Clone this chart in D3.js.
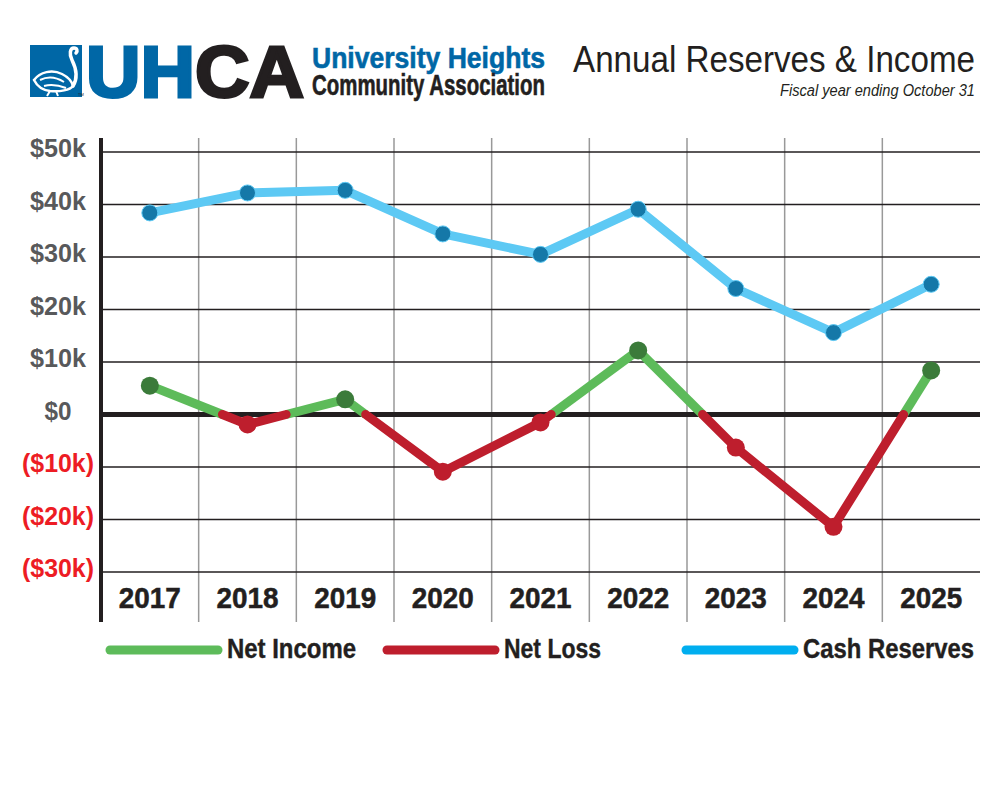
<!DOCTYPE html>
<html>
<head>
<meta charset="utf-8">
<script src="https://cdn.jsdelivr.net/npm/d3@7"></script>
<style>
  body { margin: 0; background: #fff; }
  svg { display: block; }
</style>
</head>
<body>
<svg id="chart" width="1000" height="800"></svg>
<script>
// fiscal years (ending Oct 31)
const years = ['2017', '2018', '2019', '2020', '2021', '2022', '2023', '2024', '2025'];
// cash reserves at year end, dollars
const cashReserves = [38400, 42200, 42700, 34400, 30500, 39100, 24000, 15600, 24800];
// net income (negative = net loss), dollars
const netIncome = [5500, -1900, 2900, -10900, -1500, 12200, -6300, -21400, 8400];
const yTicks = [50000, 40000, 30000, 20000, 10000, 0, -10000, -20000, -30000];
const legendItems = [
    { label: 'Net Income', color: '#5dbb5a' },
    { label: 'Net Loss', color: '#be1e2d' },
    { label: 'Cash Reserves', color: '#00aeef' }
];

(function () {
    const svg = d3.select('#chart');
    const ink = '#231f20';
    const font = '"Liberation Sans", Arial, Helvetica, sans-serif';

    const plotLeft = 101, plotRight = 980, plotTop = 138, plotBottom = 622;
    const x = d3.scaleBand().domain(years).range([plotLeft, plotRight]);
    const y = d3.scaleLinear().domain([-30000, 50000]).range([572, 152]);
    const cx = d => x(d) + x.bandwidth() / 2;

    // squeeze a text to a given width (the original uses a condensed face)
    const squeeze = (sel, w) => sel.attr('textLength', w).attr('lengthAdjust', 'spacingAndGlyphs');

    /*
     * Header: logo + title
     */
    const logo = svg.append('g');
    logo.append('rect')
        .attr('x', 30).attr('y', 45).attr('width', 52).attr('height', 52)
        .attr('fill', '#0067a6');
    // swan, roughly
    logo.append('path')
        .attr('d', 'M73,86 C78,78 76,68 72,60 C69,54 70,48 74,48 C77,48 78,51 76,53')
        .attr('fill', 'none').attr('stroke', '#fff').attr('stroke-width', 3.5).attr('stroke-linecap', 'round');
    logo.append('path')
        .attr('d', 'M34,80 C40,72 52,69 62,74 C68,77 72,82 73,86 C70,90 60,92 50,91 C42,90 37,86 34,80 Z')
        .attr('fill', 'none').attr('stroke', '#fff').attr('stroke-width', 2.5);
    logo.append('path')
        .attr('d', 'M40,80 C48,76 56,77 64,82 M44,86 C52,84 58,85 66,88 M50,91 L47,96 M56,91 L58,96')
        .attr('fill', 'none').attr('stroke', '#fff').attr('stroke-width', 2);
    logo.append('text')
        .attr('x', 78).attr('y', 96)
        .attr('font-family', font)
        .attr('font-size', 4).attr('fill', ink)
        .text('TM');

    const big = logo.append('text')
        .attr('x', 86).attr('y', 97)
        .attr('font-family', font)
        .attr('font-weight', 'bold')
        .attr('font-size', 73)
        .attr('stroke-width', 3)
        .call(squeeze, 218);
    big.append('tspan').attr('fill', '#0067a6').attr('stroke', '#0067a6').text('UH');
    big.append('tspan').attr('fill', ink).attr('stroke', ink).text('CA');

    logo.append('text')
        .attr('x', 312).attr('y', 68)
        .attr('font-family', font).attr('font-weight', 'bold')
        .attr('font-size', 30).attr('fill', '#0067a6')
        .attr('stroke', '#0067a6').attr('stroke-width', 0.6)
        .call(squeeze, 233)
        .text('University Heights');
    logo.append('text')
        .attr('x', 312).attr('y', 95)
        .attr('font-family', font).attr('font-weight', 'bold')
        .attr('font-size', 29).attr('fill', ink)
        .attr('stroke', ink).attr('stroke-width', 0.6)
        .call(squeeze, 233)
        .text('Community Association');

    svg.append('text')
        .attr('x', 573).attr('y', 72)
        .attr('font-family', font)
        .attr('font-size', 37).attr('fill', ink)
        .call(squeeze, 402)
        .text('Annual Reserves & Income');
    svg.append('text')
        .attr('x', 780).attr('y', 96)
        .attr('font-family', font)
        .attr('font-style', 'italic')
        .attr('font-size', 16).attr('fill', ink)
        .call(squeeze, 195)
        .text('Fiscal year ending October 31');

    /*
     * Grid
     */
    const grid = svg.append('g');
    grid.selectAll('line.v')
        .data(years.slice(1))
        .join('line')
        .attr('class', 'v')
        .attr('x1', d => x(d)).attr('x2', d => x(d))
        .attr('y1', plotTop).attr('y2', plotBottom)
        .attr('stroke', '#999').attr('stroke-width', 1.5);
    grid.selectAll('line.h')
        .data(yTicks.filter(d => d !== 0))
        .join('line')
        .attr('class', 'h')
        .attr('x1', plotLeft).attr('x2', plotRight)
        .attr('y1', d => y(d)).attr('y2', d => y(d))
        .attr('stroke', ink).attr('stroke-width', 1.5);
    grid.append('line')
        .attr('x1', plotLeft).attr('x2', plotRight)
        .attr('y1', y(0)).attr('y2', y(0))
        .attr('stroke', ink).attr('stroke-width', 5);
    grid.append('line')
        .attr('x1', plotLeft).attr('x2', plotLeft)
        .attr('y1', plotTop).attr('y2', plotBottom)
        .attr('stroke', ink).attr('stroke-width', 4);

    const fmt = v => v < 0 ? `($${-v / 1000}k)` : v === 0 ? '$0' : `$${v / 1000}k`;
    svg.append('g').selectAll('text')
        .data(yTicks)
        .join('text')
        .attr('x', 58)
        .attr('y', d => y(d) + 5)
        .attr('text-anchor', 'middle')
        .attr('font-family', font).attr('font-weight', 'bold')
        .attr('font-size', 26)
        .attr('fill', d => d < 0 ? '#ed1c24' : '#58595b')
        .each(function (d) {
            const w = d < 0 ? 72 : d === 0 ? 27 : 56;
            d3.select(this).call(squeeze, w);
        })
        .text(fmt);

    svg.append('g').selectAll('text')
        .data(years)
        .join('text')
        .attr('x', cx)
        .attr('y', 608)
        .attr('text-anchor', 'middle')
        .attr('font-family', font).attr('font-weight', 'bold')
        .attr('font-size', 29).attr('fill', ink)
        .attr('stroke', ink).attr('stroke-width', 0.5)
        .call(squeeze, 62)
        .text(d => d);

    /*
     * Cash reserves
     */
    const cash = years.map((d, i) => [cx(d), y(cashReserves[i])]);
    svg.append('path')
        .attr('d', d3.line()(cash))
        .attr('fill', 'none')
        .attr('stroke', '#5dc9f4').attr('stroke-width', 9)
        .attr('stroke-linejoin', 'round');
    svg.append('g').selectAll('circle')
        .data(cash)
        .join('circle')
        .attr('cx', d => d[0]).attr('cy', d => d[1]).attr('r', 8)
        .attr('fill', '#1578a8')
        .attr('stroke', '#5dc9f4').attr('stroke-width', 1);

    /*
     * Net income / loss, split where it crosses zero
     */
    const segs = [];
    for (let i = 0; i < years.length - 1; i++) {
        const a = netIncome[i], b = netIncome[i + 1];
        const p0 = [cx(years[i]), y(a)], p1 = [cx(years[i + 1]), y(b)];
        if (a * b < 0) {
            const t = a / (a - b);
            const pz = [p0[0] + t * (p1[0] - p0[0]), y(0)];
            segs.push({ pts: [p0, pz], pos: a > 0 });
            segs.push({ pts: [pz, p1], pos: b > 0 });
        } else {
            segs.push({ pts: [p0, p1], pos: a + b > 0 });
        }
    }
    segs.sort((a, b) => b.pos - a.pos);
    svg.append('g').selectAll('line')
        .data(segs)
        .join('line')
        .attr('x1', d => d.pts[0][0]).attr('y1', d => d.pts[0][1])
        .attr('x2', d => d.pts[1][0]).attr('y2', d => d.pts[1][1])
        .attr('stroke', d => d.pos ? '#5dbb5a' : '#be1e2d')
        .attr('stroke-width', 9)
        .attr('stroke-linecap', d => d.pos ? 'butt' : 'round');
    svg.append('g').selectAll('circle')
        .data(years)
        .join('circle')
        .attr('cx', cx)
        .attr('cy', (d, i) => y(netIncome[i]))
        .attr('r', 9)
        .attr('fill', (d, i) => netIncome[i] >= 0 ? '#3b7b3a' : '#be1e2d');

    /*
     * Legend
     */
    const legendX = [110, 387, 686];
    const legendW = [129, 97, 171];
    const lg = svg.append('g').selectAll('g')
        .data(legendItems)
        .join('g')
        .attr('transform', (d, i) => `translate(${legendX[i]},650)`);
    lg.append('line')
        .attr('x1', 0).attr('x2', 108)
        .attr('stroke', d => d.color).attr('stroke-width', 9)
        .attr('stroke-linecap', 'round');
    lg.append('text')
        .attr('x', 117).attr('y', 8)
        .attr('font-family', font).attr('font-weight', 'bold')
        .attr('font-size', 27).attr('fill', ink)
        .attr('stroke', ink).attr('stroke-width', 0.4)
        .each(function (d, i) {
            d3.select(this).call(squeeze, legendW[i]);
        })
        .text(d => d.label);
}());
</script>
</body>
</html>
